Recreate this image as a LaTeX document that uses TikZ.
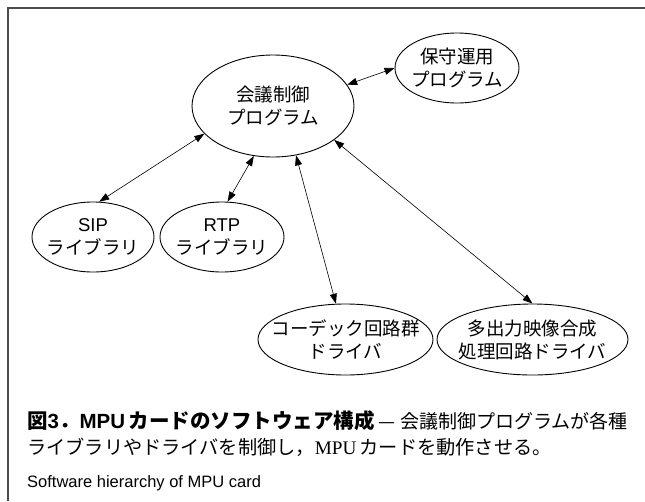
\documentclass[tikz,border=0pt]{standalone}
\usepackage{fontspec}
\setmainfont{Noto Sans CJK JP}
\newfontfamily\lat{Liberation Sans}
\newfontfamily\latserif{Liberation Serif}
\usetikzlibrary{shapes.geometric,arrows.meta}
\tikzset{
  frameline/.style={line width=1.4pt, draw=black!70},
  ell/.style={draw, ellipse, line width=0.9pt, inner sep=0pt},
  elltext/.style={inner sep=0pt, align=center, font=\fontsize{18.5}{23}\selectfont},
  conn/.style={{Triangle[length=10pt,width=7pt]}-{Triangle[length=10pt,width=7pt]}, line width=0.6pt},
  captext/.style={anchor=base west, inner sep=0pt}
}
\begin{document}
\begin{tikzpicture}[x=1pt,y=-1pt]
\useasboundingbox (0,0) rectangle (645,501);
\coordinate (ftr) at (645,8);
\coordinate (ftl) at (8,8);
\coordinate (fbl) at (8,501);
\draw[frameline] (ftr) -- (ftl) -- (fbl);

\node[ell, minimum width=162pt, minimum height=102pt] (main) at (273,106) {};
\node[elltext] (main-t) at (main) {会議制御\\プログラム};
\node[ell, minimum width=124pt, minimum height=70pt] (hosyu) at (457,68) {};
\node[elltext] (hosyu-t) at (hosyu) {保守運用\\プログラム};
\node[ell, minimum width=122pt, minimum height=70pt] (sip) at (93,237) {};
\node[elltext] (sip-t) at (sip) {{\lat SIP}\\ライブラリ};
\node[ell, minimum width=124pt, minimum height=70pt] (rtp) at (222,237) {};
\node[elltext] (rtp-t) at (rtp) {{\lat RTP}\\ライブラリ};
\node[ell, minimum width=175pt, minimum height=71pt] (codec) at (345.5,339.5) {};
\node[elltext] (codec-t) at (codec) {コーデック回路群\\ドライバ};
\node[ell, minimum width=191pt, minimum height=71pt] (multi) at (532.5,339.5) {};
\node[elltext] (multi-t) at (multi) {多出力映像合成\\処理回路ドライバ};

\draw[conn] (main.202) -- (sip.80);
\draw[conn] (main.249) -- (rtp.81);
\draw[conn] (main.295) -- (codec.105);
\draw[conn] (main.331) -- (multi.90);
\draw[conn] (main.16) -- (hosyu.180);

\node[captext, font=\fontsize{19}{24}\selectfont] (cap1) at (27,428)
  {{\fontsize{20.5}{24}\selectfont\bfseries 図{\lat 3}．{\lat MPU}\,カードのソフトウェア構成}\ —\ 会議制御プログラムが各種};
\node[captext, font=\fontsize{19.2}{24}\selectfont] (cap2) at (27,454)
  {ライブラリやドライバを制御し，{\latserif MPU}\,カードを動作させる。};
\node[captext, font=\lat\fontsize{16.5}{20}\selectfont] (cap3) at (27,487)
  {Software hierarchy of MPU card};
\end{tikzpicture}
\end{document}
